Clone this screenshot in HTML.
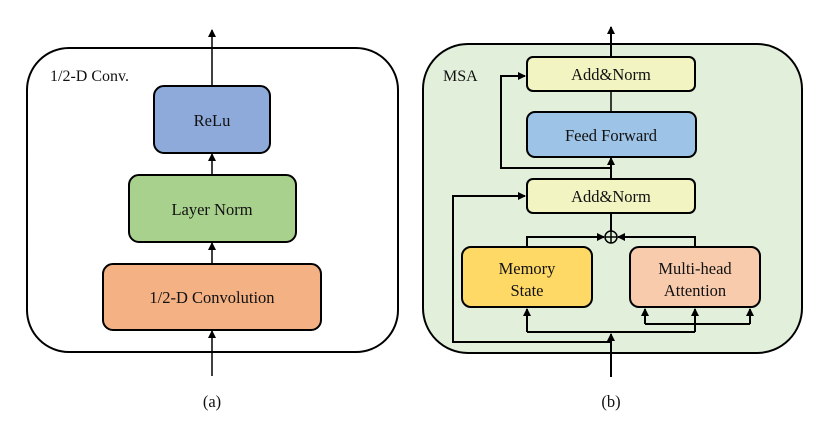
<!DOCTYPE html>
<html><head><meta charset="utf-8"><style>
html,body{margin:0;padding:0;background:#fff;}
svg{display:block;}
text{font-family:"Liberation Serif",serif;fill:#111;}
</style></head><body>
<svg width="830" height="427" viewBox="0 0 830 427" xmlns="http://www.w3.org/2000/svg">
<defs>
<marker id="a" markerWidth="8" markerHeight="8" refX="7" refY="4" orient="auto" markerUnits="userSpaceOnUse">
<path d="M0,0 L8,4 L0,8 z" fill="#000"/></marker>
</defs>
<!-- Panel a -->
<rect x="27" y="48" width="371" height="304" rx="42" fill="#fff" stroke="#000" stroke-width="2"/>
<text x="50" y="81" font-size="16">1/2-D Conv.</text>
<line x1="212" y1="86" x2="212" y2="30" stroke="#000" stroke-width="1.5" marker-end="url(#a)"/>
<rect x="154" y="86" width="116" height="67" rx="10" fill="#8eaadb" stroke="#000" stroke-width="2"/>
<text x="212" y="126" font-size="16.5" text-anchor="middle">ReLu</text>
<line x1="212" y1="175" x2="212" y2="154" stroke="#000" stroke-width="1.5" marker-end="url(#a)"/>
<rect x="129" y="175" width="167" height="67" rx="10" fill="#a9d18e" stroke="#000" stroke-width="2"/>
<text x="212" y="215" font-size="16.5" text-anchor="middle">Layer Norm</text>
<line x1="212" y1="264" x2="212" y2="243" stroke="#000" stroke-width="1.5" marker-end="url(#a)"/>
<rect x="103" y="264" width="218" height="66" rx="10" fill="#f4b183" stroke="#000" stroke-width="2"/>
<text x="212" y="303" font-size="16.5" text-anchor="middle">1/2-D Convolution</text>
<line x1="212" y1="376" x2="212" y2="331" stroke="#000" stroke-width="1.5" marker-end="url(#a)"/>
<text x="212" y="407" font-size="16.5" text-anchor="middle">(a)</text>

<!-- Panel b -->
<rect x="423" y="44" width="379" height="309" rx="45" fill="#e2efda" stroke="#000" stroke-width="2"/>
<text x="443" y="81" font-size="16">MSA</text>
<line x1="611" y1="57" x2="611" y2="27" stroke="#000" stroke-width="2" marker-end="url(#a)"/>
<line x1="611" y1="91" x2="611" y2="112" stroke="#000" stroke-width="1.5"/>
<rect x="527" y="57" width="168" height="34" rx="6" fill="#f2f5c2" stroke="#000" stroke-width="2"/>
<text x="611" y="80" font-size="16.5" text-anchor="middle">Add&amp;Norm</text>
<rect x="527" y="112" width="169" height="45" rx="8" fill="#9dc3e6" stroke="#000" stroke-width="2"/>
<text x="611" y="141" font-size="16.5" text-anchor="middle">Feed Forward</text>
<line x1="611" y1="179" x2="611" y2="158" stroke="#000" stroke-width="2" marker-end="url(#a)"/>
<polyline points="611,168 501,168 501,76 525,76" fill="none" stroke="#000" stroke-width="2" marker-end="url(#a)"/>
<rect x="527" y="179" width="168" height="34" rx="6" fill="#f2f5c2" stroke="#000" stroke-width="2"/>
<text x="611" y="202" font-size="16.5" text-anchor="middle">Add&amp;Norm</text>
<line x1="611" y1="213" x2="611" y2="231" stroke="#000" stroke-width="2"/>
<circle cx="611" cy="237" r="6" fill="none" stroke="#000" stroke-width="1.5"/>
<line x1="605" y1="237" x2="617" y2="237" stroke="#000" stroke-width="1.5"/>
<line x1="611" y1="231" x2="611" y2="243" stroke="#000" stroke-width="1.5"/>
<polyline points="527,247 527,237 604,237" fill="none" stroke="#000" stroke-width="2" marker-end="url(#a)"/>
<polyline points="695,247 695,237 618,237" fill="none" stroke="#000" stroke-width="2" marker-end="url(#a)"/>
<rect x="462" y="247" width="130" height="60" rx="9" fill="#ffd966" stroke="#000" stroke-width="2"/>
<text x="527" y="274" font-size="16.5" text-anchor="middle">Memory</text>
<text x="527" y="296" font-size="16.5" text-anchor="middle">State</text>
<rect x="630" y="247" width="130" height="60" rx="9" fill="#f8cbad" stroke="#000" stroke-width="2"/>
<text x="695" y="274" font-size="16.5" text-anchor="middle">Multi-head</text>
<text x="695" y="296" font-size="16.5" text-anchor="middle">Attention</text>
<line x1="611" y1="377" x2="611" y2="334" stroke="#000" stroke-width="2" marker-end="url(#a)"/>
<polyline points="611,342 453,342 453,196 525,196" fill="none" stroke="#000" stroke-width="2" marker-end="url(#a)"/>
<line x1="527" y1="332" x2="695" y2="332" stroke="#000" stroke-width="2"/>
<line x1="527" y1="332" x2="527" y2="309" stroke="#000" stroke-width="2" marker-end="url(#a)"/>
<line x1="695" y1="332" x2="695" y2="309" stroke="#000" stroke-width="2" marker-end="url(#a)"/>
<line x1="645" y1="324" x2="750" y2="324" stroke="#000" stroke-width="2"/>
<line x1="645" y1="324" x2="645" y2="309" stroke="#000" stroke-width="2" marker-end="url(#a)"/>
<line x1="750" y1="324" x2="750" y2="309" stroke="#000" stroke-width="2" marker-end="url(#a)"/>
<text x="611" y="407" font-size="16.5" text-anchor="middle">(b)</text>
</svg>
</body></html>
